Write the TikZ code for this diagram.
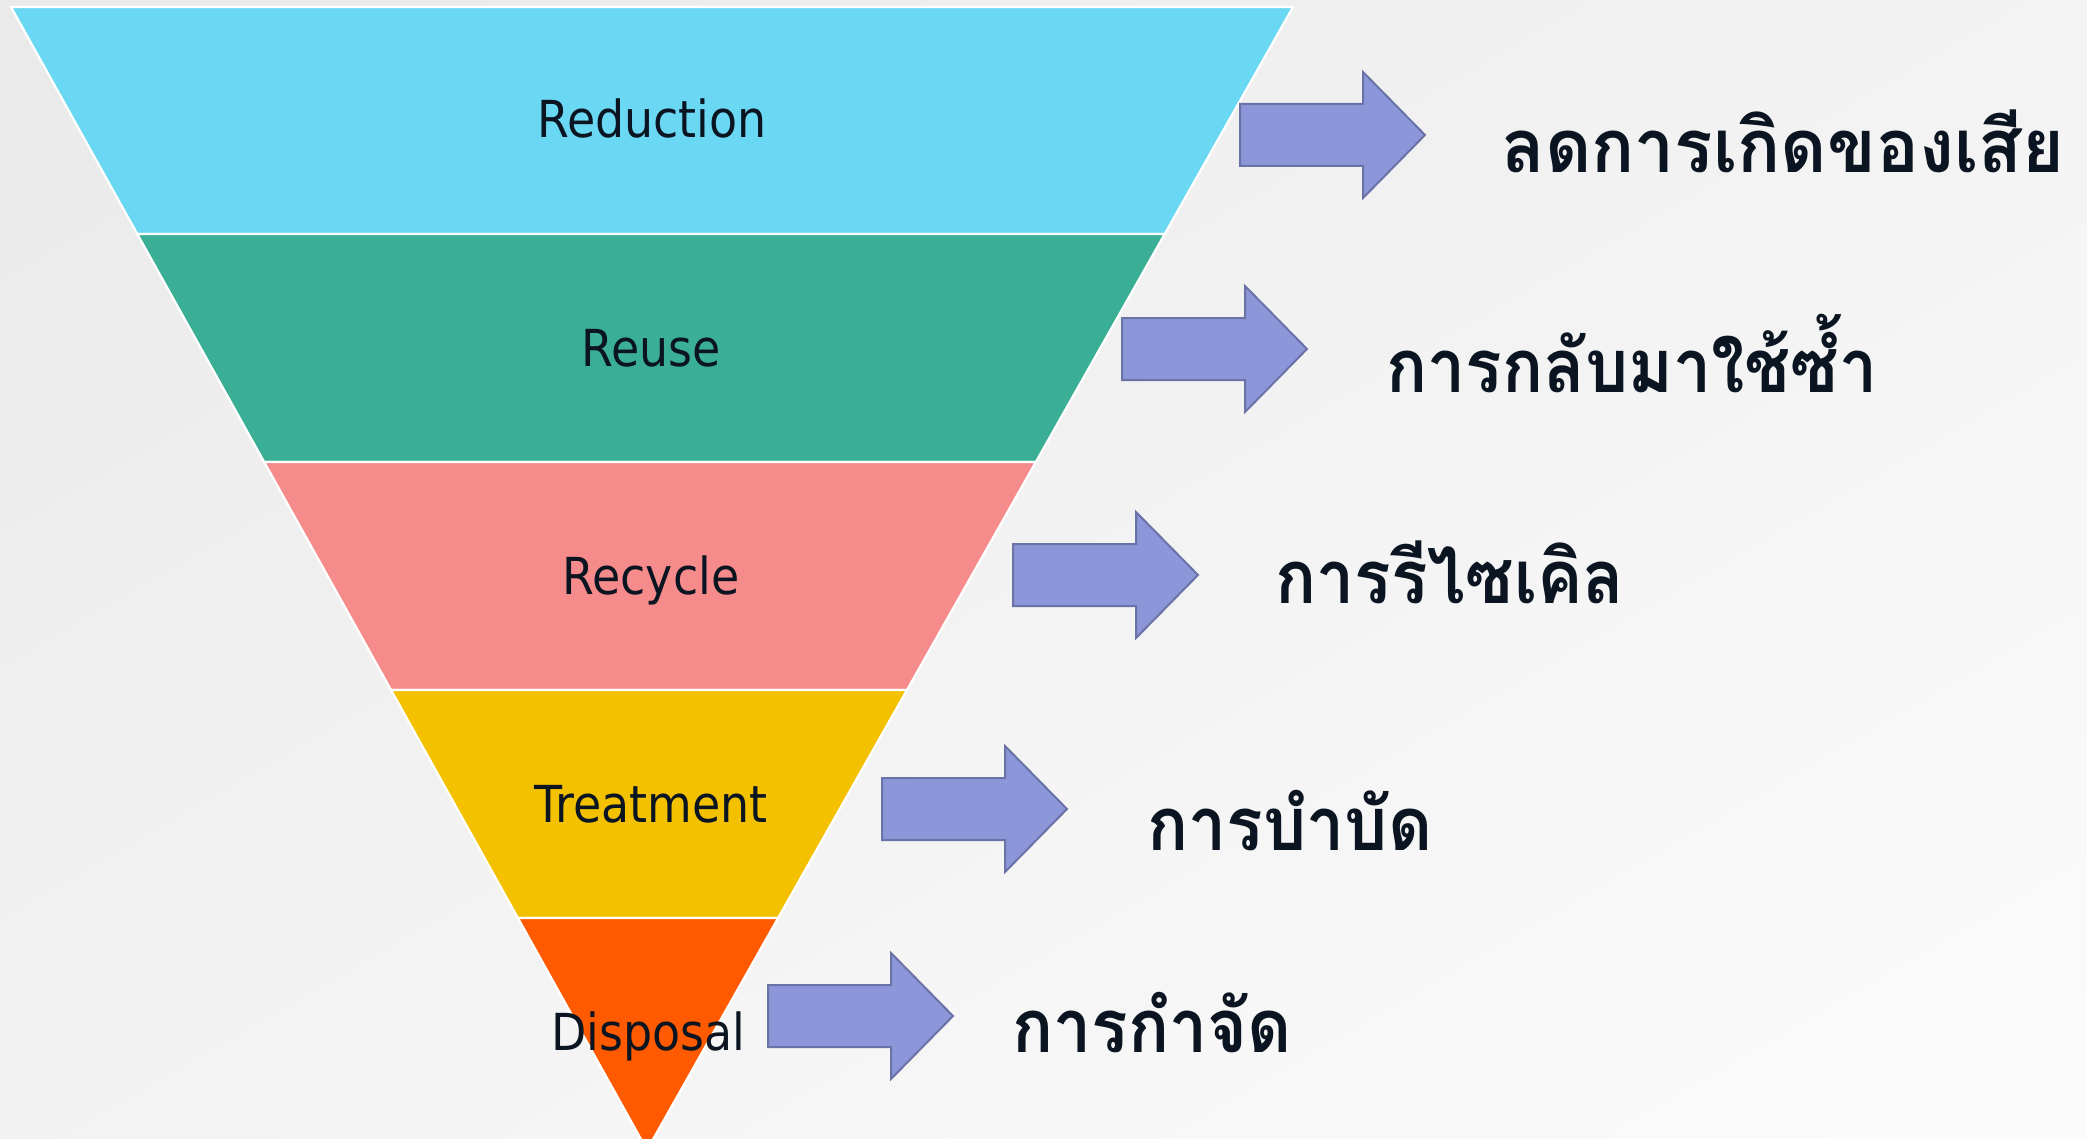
\documentclass[tikz,border=0pt]{standalone}
\usepackage{fontspec}
\setmainfont{DejaVu Sans Condensed}
\newfontfamily\thaifont[Script=Thai, FakeStretch=0.92]{Loma}
\usetikzlibrary{calc}

\definecolor{bgdark}{HTML}{EAEAEA}
\definecolor{bglight}{HTML}{FBFBFB}
\definecolor{reducecol}{HTML}{6AD8F3}
\definecolor{reusecol}{HTML}{3BAF95}
\definecolor{recyclecol}{HTML}{F58B8B}
\definecolor{treatcol}{HTML}{F4C100}
\definecolor{disposecol}{HTML}{FF5A00}
\definecolor{arrowfill}{HTML}{8C97D9}
\definecolor{arrowline}{HTML}{6B72A8}
\definecolor{ink}{HTML}{0B1521}

% block arrow: tail at (#1,#2), pointing right
\newcommand\blockarrow[2]{%
  \draw[blockarrow,shift={(#1,#2)}]
    (0,-31) -- (123,-31) -- (123,-63) -- (185,0) -- (123,63) -- (123,31) -- (0,31) -- cycle;}

\tikzset{
  band/.style={draw=white, line width=1.1pt, line join=miter},
  blockarrow/.style={fill=arrowfill, draw=arrowline, line width=1pt, line join=miter},
  level/.style={inner sep=0pt, anchor=base, text=ink, font=\fontsize{25.5}{30}\selectfont},
  thai/.style={inner sep=0pt, anchor=base west, text=ink, font=\thaifont\bfseries\fontsize{37}{43}\selectfont},
}

\begin{document}
\begin{tikzpicture}[x=0.5pt, y=-0.5pt]
  \useasboundingbox (0,0) rectangle (2087,1139);
  \clip (0,0) rectangle (2087,1139);
  \shade[top color=bgdark, bottom color=bglight, shading angle=30] (-200,-200) rectangle (2287,1339);

  % funnel outline
  \coordinate (tl) at (11,7);
  \coordinate (tr) at (1293,7);
  \coordinate (tip) at (647,1150);
  \coordinate (l1) at ($(tl)!0.1986!(tip)$);
  \coordinate (r1) at ($(tr)!0.1986!(tip)$);
  \coordinate (l2) at ($(tl)!0.3981!(tip)$);
  \coordinate (r2) at ($(tr)!0.3981!(tip)$);
  \coordinate (l3) at ($(tl)!0.5976!(tip)$);
  \coordinate (r3) at ($(tr)!0.5976!(tip)$);
  \coordinate (l4) at ($(tl)!0.7970!(tip)$);
  \coordinate (r4) at ($(tr)!0.7970!(tip)$);

  \draw[band, fill=reducecol]  (tl) -- (tr) -- (r1) -- (l1) -- cycle;
  \draw[band, fill=reusecol]   (l1) -- (r1) -- (r2) -- (l2) -- cycle;
  \draw[band, fill=recyclecol] (l2) -- (r2) -- (r3) -- (l3) -- cycle;
  \draw[band, fill=treatcol]   (l3) -- (r3) -- (r4) -- (l4) -- cycle;
  \draw[band, fill=disposecol] (l4) -- (r4) -- (tip) -- cycle;

  % level names
  \node[level] (reduction) at (652,138)  {Reduction};
  \node[level] (reuse)     at (651,366)  {Reuse};
  \node[level] (recycle)   at (651,594)  {Recycle};
  \node[level] (treatment) at (651,822)  {Treatment};
  \node[level] (disposal)  at (648,1050) {Disposal};

  % arrows
  \blockarrow{1240}{135}
  \blockarrow{1122}{349}
  \blockarrow{1013}{575}
  \blockarrow{882}{809}
  \blockarrow{768}{1016}

  % Thai descriptions
  \node[thai, xscale=1.05, transform shape] (th1) at (1501,173)  {ลดการเกิดของเสีย};
  \node[thai] (th2) at (1386,392)  {การกลับมาใช้ซ้ำ};
  \node[thai] (th3) at (1275,603)  {การรีไซเคิล};
  \node[thai] (th4) at (1147,850)  {การบำบัด};
  \node[thai] (th5) at (1012,1052) {การกำจัด};
\end{tikzpicture}
\end{document}
